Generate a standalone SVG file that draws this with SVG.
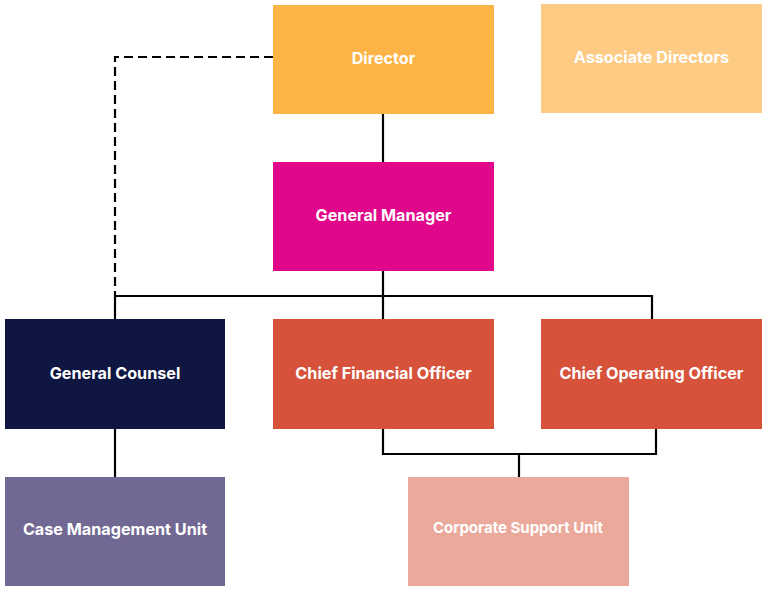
<svg xmlns="http://www.w3.org/2000/svg" width="768" height="591" viewBox="0 0 768 591">
<style>
.lbl{font-family:Inter,"Liberation Sans",sans-serif;font-weight:700;font-size:16.2px;fill:#fff;text-anchor:middle;dominant-baseline:central}
.sm{font-size:15px}
.ln{fill:none;stroke:#000;stroke-width:2.2}
.dash{stroke-dasharray:9 5}
</style>
<rect width="768" height="591" fill="#fff"/>
<g id="connectors">
<path class="ln dash" d="M273 57 H115 V296"/>
<path class="ln" d="M383 114 V162"/>
<path class="ln" d="M383 271 V319"/>
<path class="ln" d="M115 319 V296 H652 V319"/>
<path class="ln" d="M115 429 V477"/>
<path class="ln" d="M383 429 V454 H656 V429"/>
<path class="ln" d="M519 454 V477"/>
</g>
<g id="director"><rect x="273" y="5" width="221" height="109" fill="#FDB446"/><text class="lbl" x="383.5" y="58">Director</text></g>
<g id="associate-directors"><rect x="541" y="4" width="221" height="109" fill="#FECB85"/><text class="lbl" x="651.5" y="57">Associate Directors</text></g>
<g id="general-manager"><rect x="273" y="162" width="221" height="109" fill="#E0078A"/><text class="lbl" x="383.5" y="215">General Manager</text></g>
<g id="general-counsel"><rect x="5" y="319" width="220" height="110" fill="#0F1642"/><text class="lbl" x="115" y="373">General Counsel</text></g>
<g id="cfo"><rect x="273" y="319" width="221" height="110" fill="#D6523B"/><text class="lbl" x="383.5" y="373">Chief Financial Officer</text></g>
<g id="coo"><rect x="541" y="319" width="221" height="110" fill="#D6523B"/><text class="lbl" x="651.5" y="373">Chief Operating Officer</text></g>
<g id="case-management-unit"><rect x="5" y="477" width="220" height="109" fill="#726894"/><text class="lbl" x="115" y="529">Case Management Unit</text></g>
<g id="corporate-support-unit"><rect x="408" y="477" width="221" height="109" fill="#EAA99B"/><text class="lbl sm" x="518" y="527">Corporate Support Unit</text></g>
</svg>
